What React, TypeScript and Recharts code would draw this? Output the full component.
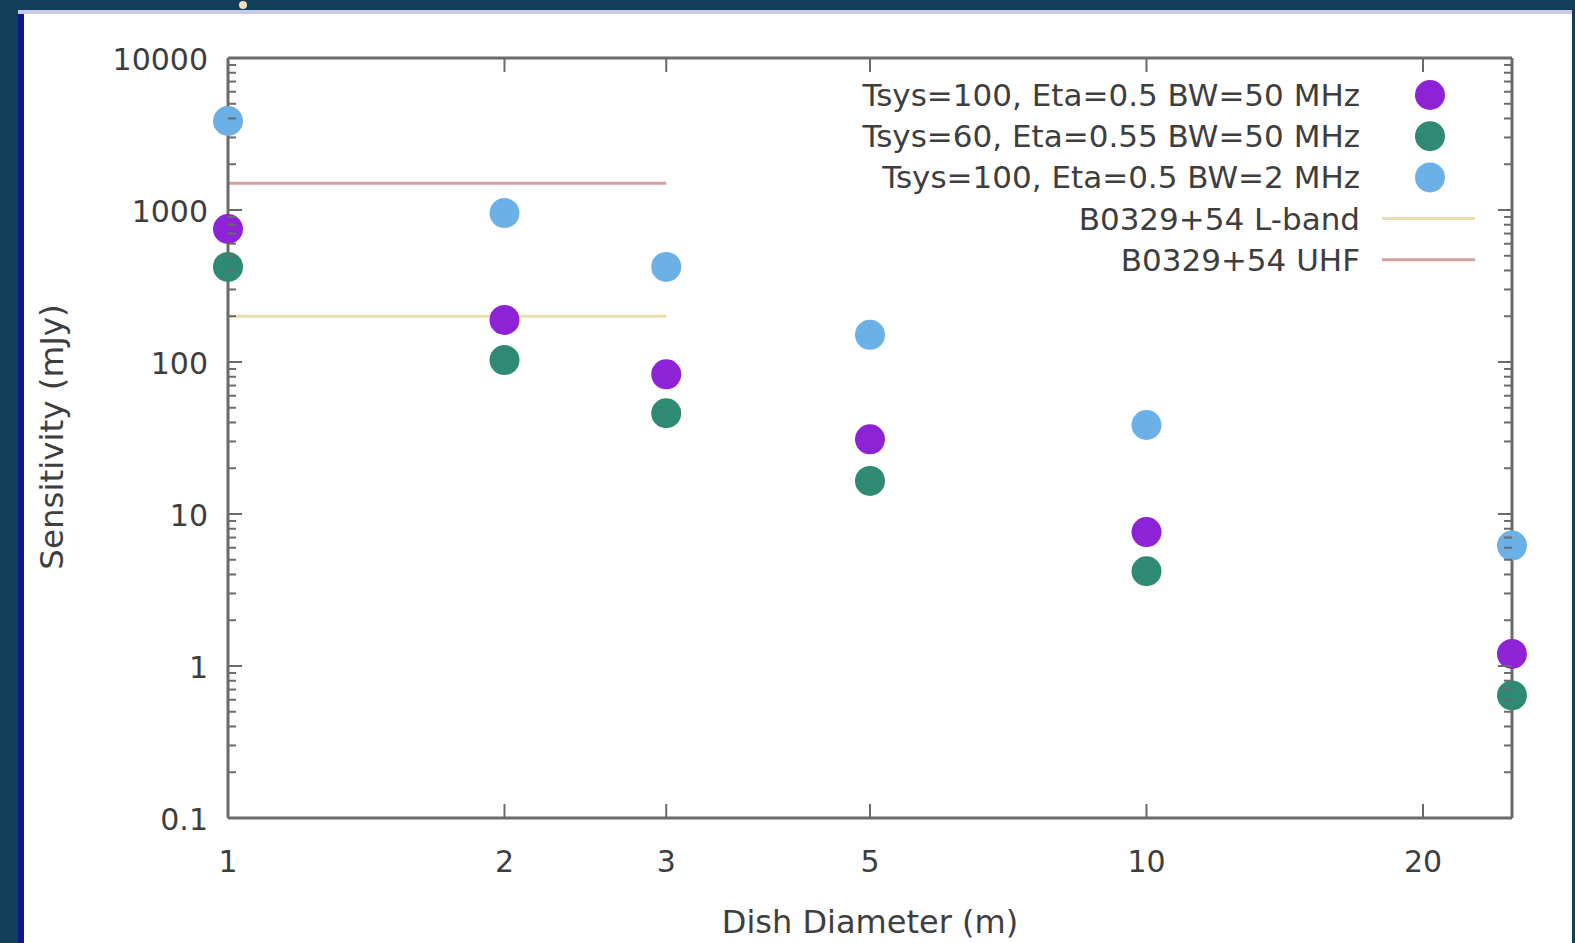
import React from 'react';
import { ScatterChart, Scatter, XAxis, YAxis, ReferenceLine } from 'recharts';

// ---------- data ----------
const dishDiameters = [1, 2, 3, 5, 10, 25];
const sensTsys100Bw50 = [750, 189, 83, 31, 7.6, 1.2];
const sensTsys60Bw50 = [422, 103, 46, 16.5, 4.2, 0.64];
const sensTsys100Bw2 = [3850, 955, 422, 151, 38.5, 6.2];

const lbandFlux = 200;
const uhfFlux = 1500;
const pulsarLineRange = [1, 3];

const xTicks = [1, 2, 3, 5, 10, 20];
const yMajorTicks = [0.1, 1, 10, 100, 1000, 10000];
const yMinorTicks = [
  0.2, 0.3, 0.4, 0.5, 0.6, 0.7, 0.8, 0.9,
  2, 3, 4, 5, 6, 7, 8, 9,
  20, 30, 40, 50, 60, 70, 80, 90,
  200, 300, 400, 500, 600, 700, 800, 900,
  2000, 3000, 4000, 5000, 6000, 7000, 8000, 9000,
];
const yAllTicks = [...yMajorTicks, ...yMinorTicks].sort((a, b) => a - b);

const seriesNames = [
  'Tsys=100, Eta=0.5 BW=50 MHz',
  'Tsys=60, Eta=0.55 BW=50 MHz',
  'Tsys=100, Eta=0.5 BW=2 MHz',
];
const lineNames = ['B0329+54 L-band', 'B0329+54 UHF'];
const seriesColors = ['#8e22d6', '#2e8a72', '#6cb0e8'];
const lineColors = ['#ecdcab', '#d6a0a0'];

const toPoints = (ys: number[]) => dishDiameters.map((x, i) => ({ x, y: ys[i] }));
const seriesData = [toPoints(sensTsys100Bw50), toPoints(sensTsys60Bw50), toPoints(sensTsys100Bw2)];

// ---------- style ----------
const FONT = "'DejaVu Sans', sans-serif";
const TEXT = '#3e3e3e';
const AXIS = '#6a6a6a';
const FS = 30;

const W = 1575;
const H = 943;
const PLOT_LEFT = 228;
const PLOT_RIGHT = 1512;
const PLOT_TOP = 58;
const PLOT_BOTTOM = 818;

const BottomTick = (props: any) => {
  const { x, y, payload } = props;
  return (
    <g>
      <line x1={x} y1={y} x2={x} y2={y - 14} stroke={AXIS} strokeWidth={2} />
      <text x={x} y={y + 54} textAnchor="middle" fontFamily={FONT} fontSize={FS} fill={TEXT}>
        {payload.value}
      </text>
    </g>
  );
};

const TopTick = (props: any) => {
  const { x, y } = props;
  return <line x1={x} y1={y} x2={x} y2={y + 14} stroke={AXIS} strokeWidth={2} />;
};

const LeftTick = (props: any) => {
  const { x, y, payload } = props;
  const major = yMajorTicks.includes(payload.value);
  return (
    <g>
      <line x1={x} y1={y} x2={x + (major ? 14 : 8)} y2={y} stroke={AXIS} strokeWidth={2} />
      {major && (
        <text x={x - 20} y={y + 12} textAnchor="end" fontFamily={FONT} fontSize={FS} fill={TEXT}>
          {String(payload.value)}
        </text>
      )}
    </g>
  );
};

const RightTick = (props: any) => {
  const { x, y, payload } = props;
  const major = yMajorTicks.includes(payload.value);
  return <line x1={x} y1={y} x2={x - (major ? 14 : 8)} y2={y} stroke={AXIS} strokeWidth={2} />;
};

const dotShape = (color: string) => (props: any) =>
  <circle cx={props.cx} cy={props.cy} r={15} fill={color} />;
const noShape = () => <g />;

const legendRows = [
  ...seriesNames.map((n, i) => ({ name: n, color: seriesColors[i], kind: 'dot' })),
  ...lineNames.map((n, i) => ({ name: n, color: lineColors[i], kind: 'line' })),
];

export default function App() {
  return (
    <div style={{ position: 'absolute', left: 0, top: 0, width: W, height: H, background: '#113f57', overflow: 'hidden' }}>
      <div style={{ position: 'absolute', left: 18, top: 10, width: 6, height: H - 10, background: '#0c1790' }} />
      <div style={{ position: 'absolute', left: 24, top: 10, width: 1548, height: H - 10, background: '#ffffff' }} />
      <div style={{ position: 'absolute', left: 18, top: 10, width: 1554, height: 4, background: '#c9c9ee' }} />
      <div style={{ position: 'absolute', left: 239, top: 1, width: 8, height: 8, borderRadius: 4, background: '#f2dcc4' }} />

      <div style={{ position: 'absolute', left: 0, top: 0 }}>
        <ScatterChart
          width={W}
          height={H}
          margin={{ top: PLOT_TOP - 1, right: W - PLOT_RIGHT - 1, bottom: H - PLOT_BOTTOM - 60, left: PLOT_LEFT - 100 }}
        >
          <XAxis
            xAxisId={0}
            dataKey="x"
            type="number"
            scale="log"
            domain={[1, 25]}
            ticks={xTicks}
            interval={0}
            height={60}
            tickSize={0}
            tickMargin={0}
            tickLine={false}
            axisLine={{ stroke: AXIS, strokeWidth: 3 }}
            tick={<BottomTick />}
          />
          <XAxis
            xAxisId="top"
            orientation="top"
            dataKey="x"
            type="number"
            scale="log"
            domain={[1, 25]}
            ticks={xTicks.slice(1)}
            interval={0}
            height={1}
            tickSize={0}
            tickMargin={0}
            tickLine={false}
            axisLine={{ stroke: AXIS, strokeWidth: 3 }}
            tick={<TopTick />}
          />
          <YAxis
            yAxisId={0}
            dataKey="y"
            type="number"
            scale="log"
            domain={[0.1, 10000]}
            ticks={yAllTicks}
            interval={0}
            width={100}
            tickSize={0}
            tickMargin={0}
            tickLine={false}
            axisLine={{ stroke: AXIS, strokeWidth: 3 }}
            tick={<LeftTick />}
          />
          <YAxis
            yAxisId="right"
            orientation="right"
            dataKey="y"
            type="number"
            scale="log"
            domain={[0.1, 10000]}
            ticks={yAllTicks}
            interval={0}
            width={1}
            tickSize={0}
            tickMargin={0}
            tickLine={false}
            axisLine={{ stroke: AXIS, strokeWidth: 3 }}
            tick={<RightTick />}
          />
          <Scatter
            data={seriesData[0]}
            xAxisId="top"
            yAxisId="right"
            shape={noShape}
            legendType="none"
            isAnimationActive={false}
          />
          {seriesData.map((d, i) => (
            <Scatter
              key={seriesNames[i]}
              name={seriesNames[i]}
              data={d}
              xAxisId={0}
              yAxisId={0}
              fill={seriesColors[i]}
              shape={dotShape(seriesColors[i])}
              isAnimationActive={false}
            />
          ))}
          <ReferenceLine
            xAxisId={0}
            yAxisId={0}
            segment={[{ x: pulsarLineRange[0], y: lbandFlux }, { x: pulsarLineRange[1], y: lbandFlux }]}
            stroke={lineColors[0]}
            strokeWidth={3}
          />
          <ReferenceLine
            xAxisId={0}
            yAxisId={0}
            segment={[{ x: pulsarLineRange[0], y: uhfFlux }, { x: pulsarLineRange[1], y: uhfFlux }]}
            stroke={lineColors[1]}
            strokeWidth={3}
          />
        </ScatterChart>
      </div>

      <svg width={W} height={H} style={{ position: 'absolute', left: 0, top: 0, pointerEvents: 'none' }}>
        <text
          transform={`translate(63, 437) rotate(-90)`}
          textAnchor="middle"
          fontFamily={FONT}
          fontSize={32.5}
          fill={TEXT}
        >
          Sensitivity (mJy)
        </text>
        <text x={(PLOT_LEFT + PLOT_RIGHT) / 2} y={933} textAnchor="middle" fontFamily={FONT} fontSize={32} fill={TEXT}>
          Dish Diameter (m)
        </text>
        {legendRows.map((r, i) => {
          const cy = 95 + i * 41.2;
          return (
            <g key={r.name}>
              <text x={1360} y={cy + 11} textAnchor="end" fontFamily={FONT} fontSize={31} fill={TEXT}>
                {r.name}
              </text>
              {r.kind === 'dot' ? (
                <circle cx={1430} cy={cy} r={15} fill={r.color} />
              ) : (
                <line x1={1382} y1={cy} x2={1475} y2={cy} stroke={r.color} strokeWidth={3} />
              )}
            </g>
          );
        })}
      </svg>
    </div>
  );
}
